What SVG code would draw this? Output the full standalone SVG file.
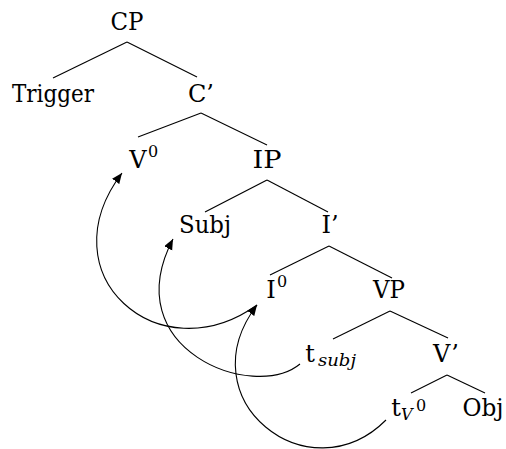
<svg xmlns="http://www.w3.org/2000/svg" width="506" height="449" viewBox="0 0 506 449">
  <style>
    .lbl { font-family: "DejaVu Serif", serif; font-size: 24px; text-anchor: middle; fill: #000; }
    .sub { font-family: "DejaVu Serif", serif; font-size: 16px; fill: #000; }
    .it { font-style: italic; }
    .edge { stroke: #000; stroke-width: 1.1; fill: none; }
    .move { stroke: #000; stroke-width: 1.1; fill: none; marker-end: url(#head); }
  </style>
  <defs>
    <marker id="head" markerUnits="userSpaceOnUse" markerWidth="12" markerHeight="10" refX="10.5" refY="4.5" orient="auto">
      <path d="M0,0 L10.5,4.5 L0,9 Z" fill="#000"/>
    </marker>
  </defs>
  <rect width="506" height="449" fill="#fff"/>

  <!-- tree branches -->
  <g id="edges">
    <line class="edge" x1="127" y1="42" x2="53" y2="78"/>
    <line class="edge" x1="127" y1="42" x2="197" y2="77"/>
    <line class="edge" x1="201" y1="113" x2="138" y2="137"/>
    <line class="edge" x1="201" y1="113" x2="267" y2="145"/>
    <line class="edge" x1="267" y1="180" x2="205" y2="212"/>
    <line class="edge" x1="267" y1="180" x2="328" y2="212"/>
    <line class="edge" x1="329" y1="246" x2="270" y2="275"/>
    <line class="edge" x1="329" y1="246" x2="392" y2="278"/>
    <line class="edge" x1="390" y1="311" x2="333" y2="339"/>
    <line class="edge" x1="390" y1="311" x2="448" y2="338"/>
    <line class="edge" x1="447" y1="375" x2="411" y2="393"/>
    <line class="edge" x1="447" y1="375" x2="485" y2="393"/>
  </g>

  <!-- movement arrows -->
  <g id="movement">
    <path class="move" d="M257,305 C159,375 45,275 122,173"/>
    <path class="move" d="M300,364 C254,402 115,350 173,239"/>
    <path class="move" d="M386,420 C309,497 185,400 257,305"/>
  </g>

  <g id="CP"><text class="lbl" x="127" y="30" textLength="33" lengthAdjust="spacingAndGlyphs">CP</text></g>
  <g id="Trigger"><text class="lbl" x="53" y="102" textLength="82" lengthAdjust="spacingAndGlyphs">Trigger</text></g>
  <g id="Cbar"><text class="lbl" x="201" y="102">C’</text></g>
  <g id="V0">
    <text class="lbl" x="138" y="168">V</text>
    <text class="sub" x="148" y="157">0</text>
  </g>
  <g id="IP"><text class="lbl" x="267" y="168" textLength="29" lengthAdjust="spacingAndGlyphs">IP</text></g>
  <g id="Subj"><text class="lbl" x="205" y="233" textLength="52" lengthAdjust="spacingAndGlyphs">Subj</text></g>
  <g id="Ibar"><text class="lbl" x="330" y="233">I’</text></g>
  <g id="I0">
    <text class="lbl" x="271" y="298">I</text>
    <text class="sub" x="277" y="287">0</text>
  </g>
  <g id="VP"><text class="lbl" x="389" y="298" textLength="32" lengthAdjust="spacingAndGlyphs">VP</text></g>
  <g id="tsubj">
    <text class="lbl" x="310" y="362">t</text>
    <text class="sub it" x="318" y="366" textLength="38" lengthAdjust="spacingAndGlyphs">subj</text>
  </g>
  <g id="Vbar"><text class="lbl" x="446" y="362">V’</text></g>
  <g id="tV0">
    <text class="lbl" x="396" y="416">t</text>
    <text class="sub it" x="401" y="420">V</text>
    <text class="sub" x="416" y="411" font-size="12">0</text>
  </g>
  <g id="Obj"><text class="lbl" x="483" y="416" textLength="41" lengthAdjust="spacingAndGlyphs">Obj</text></g>
</svg>
